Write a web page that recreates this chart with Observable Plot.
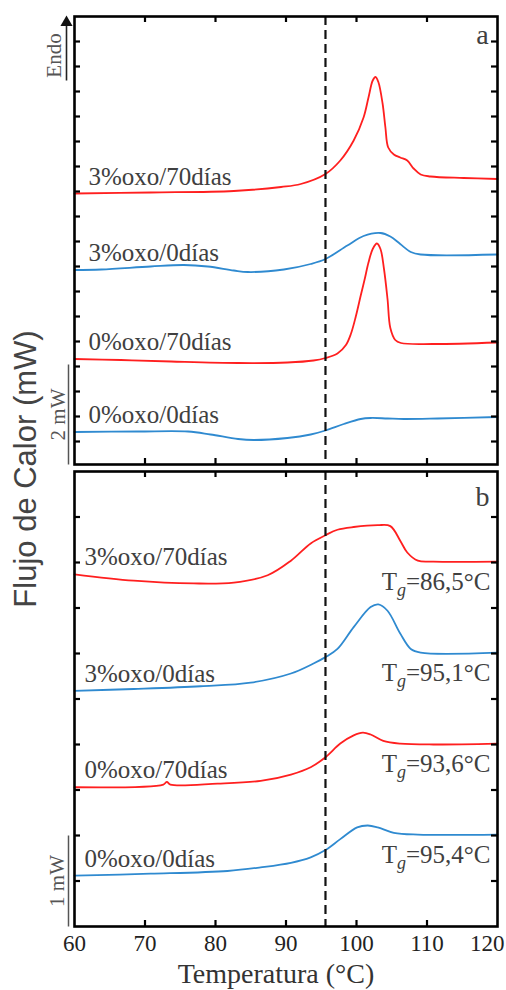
<!DOCTYPE html>
<html><head><meta charset="utf-8">
<script src="https://cdn.jsdelivr.net/npm/d3@7"></script>
<script src="https://cdn.jsdelivr.net/npm/@observablehq/plot@0.6"></script>
<style>
body{margin:0;background:#fff;}
#wrap{position:relative;width:506px;height:990px;overflow:hidden;background:#fff;}
#wrap svg{position:absolute;left:0;}
#ylab{position:absolute;left:26px;top:469px;transform:translate(-50%,-50%) rotate(-90deg);white-space:nowrap;font:31px "Liberation Sans",Arial,sans-serif;color:#444;}
</style></head><body><div id="wrap"><div id="ylab">Flujo de Calor (mW)</div></div>
<script>
// ---------- data ----------
const xTicks = [60, 70, 80, 90, 100, 110, 120];
const xDomain = [60, 120];
const dashedT = 95.6;
const xTitle = "Temperatura (°C)";
const yTitle = "Flujo de Calor (mW)";

// panel a (mW, offset curves)
const namesA = ["3%oxo/70días", "3%oxo/0días", "0%oxo/70días", "0%oxo/0días"];
const colorsA = ["#ff1f1f", "#2f8ad0", "#ff1f1f", "#2f8ad0"];
const a1T = [60, 70.8, 82.6, 89.3, 92.1, 95.6, 97.7, 99.6, 101.0, 101.7, 102.3, 102.7, 103.1, 103.7, 104.1, 104.5, 105.3, 106.2, 107.2, 108.1, 109.1, 110.5, 115.2, 120];
const a1V = [4.96, 4.98, 5.01, 5.09, 5.15, 5.35, 5.62, 6.02, 6.48, 6.88, 7.22, 7.29, 7.19, 6.76, 6.28, 5.88, 5.74, 5.68, 5.62, 5.46, 5.34, 5.30, 5.27, 5.25];
const a2T = [60, 63.8, 70.8, 75.5, 78.9, 82.6, 84.6, 89.7, 93.5, 95.6, 98.7, 101.0, 103.4, 104.8, 106.2, 107.7, 109.1, 120];
const a2V = [3.43, 3.44, 3.50, 3.53, 3.50, 3.42, 3.39, 3.44, 3.55, 3.65, 3.92, 4.11, 4.17, 4.10, 3.95, 3.79, 3.74, 3.74];
const a3T = [60, 66.6, 73.7, 83.2, 90.2, 93.9, 95.6, 97.3, 98.5, 99.2, 99.9, 100.6, 101.15, 101.7, 102.3, 102.9, 103.4, 103.9, 104.4, 104.8, 105.5, 106.3, 110.9, 120];
const a3V = [1.65, 1.63, 1.60, 1.57, 1.58, 1.62, 1.67, 1.76, 1.93, 2.15, 2.50, 2.92, 3.24, 3.58, 3.85, 3.96, 3.85, 3.45, 2.85, 2.27, 2.03, 1.97, 1.95, 1.98];
const a4T = [60, 69.0, 76.1, 79.3, 83.2, 85.4, 90.2, 93.5, 95.6, 98.2, 100.6, 102.0, 104.4, 106.7, 111.5, 120];
const a4V = [0.19, 0.20, 0.20, 0.14, 0.05, 0.03, 0.07, 0.14, 0.22, 0.35, 0.45, 0.47, 0.46, 0.45, 0.46, 0.49];

// panel b
const namesB = ["3%oxo/70días", "3%oxo/0días", "0%oxo/70días", "0%oxo/0días"];
const colorsB = ["#ff1f1f", "#2f8ad0", "#ff1f1f", "#2f8ad0"];
const tgB = ["86,5", "95,1", "93,6", "95,4"];
const b1T = [60, 68.4, 76.9, 82.6, 87.4, 90.7, 93.5, 95.6, 97.3, 99.6, 103.0, 104.8, 106.2, 107.2, 108.7, 110.9, 120];
const b1V = [3.87, 3.80, 3.77, 3.78, 3.86, 4.02, 4.21, 4.30, 4.36, 4.39, 4.41, 4.40, 4.24, 4.11, 4.02, 4.01, 4.01];
const b2T = [60, 68.4, 77.9, 85.0, 90.7, 93.9, 95.6, 97.3, 99.6, 102.0, 103.1, 104.4, 106.2, 107.7, 109.1, 120];
const b2V = [2.59, 2.61, 2.64, 2.68, 2.78, 2.89, 2.96, 3.05, 3.29, 3.51, 3.54, 3.47, 3.22, 3.05, 3.01, 3.01];
const b3T = [60, 72.6, 73.1, 73.6, 80.3, 86.4, 90.7, 93.5, 95.6, 97.7, 99.6, 100.9, 102.0, 103.8, 106.2, 110.9, 120];
const b3V = [1.53, 1.56, 1.59, 1.56, 1.57, 1.60, 1.67, 1.75, 1.86, 2.01, 2.10, 2.13, 2.11, 2.04, 2.01, 2.00, 2.01];
const b4T = [60, 70.8, 81.7, 86.4, 90.7, 93.5, 95.6, 97.7, 100.1, 101.6, 103.0, 105.3, 108.7, 120];
const b4V = [0.56, 0.58, 0.61, 0.65, 0.70, 0.76, 0.84, 0.96, 1.09, 1.11, 1.09, 1.03, 1.01, 1.01];

// annotations
const scaleA = {label: "2 mW", size: 2};
const scaleB = {label: "1 mW", size: 1};
const endoArrow = {label: "Endo", from: 7.22, to: 8.38, text: 7.72};

// ---------- build ----------
const serif = "'Liberation Serif','Times New Roman',serif";
const txt = "#404040";
const seriesA = namesA.map((n, i) => ({name: n, color: colorsA[i], T: [a1T, a2T, a3T, a4T][i], v: [a1V, a2V, a3V, a4V][i]}));
const seriesB = namesB.map((n, i) => ({name: n, color: colorsB[i], tg: tgB[i], T: [b1T, b2T, b3T, b4T][i], v: [b1V, b2V, b3V, b4V][i]}));
const pts = s => s.T.map((t, j) => ({T: t, v: s.v[j]}));

const W = 506, mL = 74, mR = 9;
const fw = W - mL - mR;
const inner = xTicks.slice(1, -1);

function panelMarks(series, yDom, yTicks, fh, lblDx) {
  return [
    ...series.map(s => Plot.line(pts(s), {x: "T", y: "v", stroke: s.color, strokeWidth: 1.8, curve: "catmull-rom"})),
    Plot.ruleX([dashedT], {stroke: "#111", strokeWidth: 2.2, strokeDasharray: "9,5"}),
    Plot.text(series, {x: d => d.T[0], y: d => d.v[0], text: d => d.name, textAnchor: "start", dx: lblDx, dy: -17, fontSize: 25, fill: txt}),
    Plot.ruleX(inner, {x: d => d, insetBottom: fh - 6, strokeWidth: 2.2}),
    Plot.ruleX(inner, {x: d => d, insetTop: fh - 6, strokeWidth: 2.2}),
    Plot.ruleY(yTicks, {y: d => d, insetRight: fw - 6, strokeWidth: 2.2}),
    Plot.ruleY(yTicks, {y: d => d, insetLeft: fw - 6, strokeWidth: 2.2}),
    Plot.frame({stroke: "#000", strokeWidth: 2.6})
  ];
}

// Panel a
const yDomA = [-0.46, 8.5];
const fhA = 448;
const plotA = Plot.plot({
  width: W, height: 466, marginTop: 16, marginBottom: 2, marginLeft: mL, marginRight: mR,
  x: {domain: xDomain, axis: null},
  y: {domain: yDomA, axis: null},
  style: {fontFamily: serif, background: "transparent", overflow: "visible", color: "#000"},
  marks: [
    ...panelMarks(seriesA, yDomA, d3.range(0, 8.01, 0.5), fhA, 14),
    Plot.text(["a"], {frameAnchor: "top-right", text: d => d, textAnchor: "middle", lineAnchor: "middle", dx: -15, dy: 19, fontSize: 28, fill: txt}),
    Plot.link([scaleA], {x1: xDomain[0], x2: xDomain[0], y1: yDomA[0], y2: d => yDomA[0] + d.size, dx: -6, stroke: "#555", strokeWidth: 1.5}),
    Plot.text([scaleA], {x: xDomain[0], y: d => yDomA[0] + d.size / 2, text: d => d.label, rotate: -90, dx: -16, fontSize: 21, fill: "#555"}),
    Plot.link([endoArrow], {x1: xDomain[0], x2: xDomain[0], y1: d => d.from, y2: d => d.to, dx: -8, stroke: "#222", strokeWidth: 1.6}),
    Plot.dot([endoArrow], {x: xDomain[0], y: d => d.to, symbol: "triangle", r: 4.5, fill: "#111", stroke: "none", dx: -8}),
    Plot.text([endoArrow], {x: xDomain[0], y: d => d.text, text: d => d.label, rotate: -90, dx: -20, fontSize: 21, fill: "#555"})
  ]
});
plotA.style.top = "0px";

// Panel b
const yDomB = [0, 5];
const fhB = 455;
const plotB = Plot.plot({
  width: W, height: 524, marginTop: 5, marginBottom: 64, marginLeft: mL, marginRight: mR,
  x: {domain: xDomain},
  y: {domain: yDomB, axis: null},
  style: {fontFamily: serif, fontSize: "23px", background: "transparent", overflow: "visible", color: "#000"},
  marks: [
    ...panelMarks(seriesB, yDomB, d3.range(0.5, 4.51, 0.5), fhB, 10),
    Plot.text(seriesB, {x: d => d.T[d.T.length - 1], y: d => d.v[d.v.length - 1], text: d => "Tg=" + d.tg + "°C", textAnchor: "end", dx: -7, dy: 20, fontSize: 25, fill: txt}),
    Plot.text(["b"], {frameAnchor: "top-right", text: d => d, textAnchor: "middle", lineAnchor: "middle", dx: -15, dy: 26, fontSize: 28, fill: txt}),
    Plot.link([scaleB], {x1: xDomain[0], x2: xDomain[0], y1: yDomB[0], y2: d => yDomB[0] + d.size, dx: -6, stroke: "#555", strokeWidth: 1.5}),
    Plot.text([scaleB], {x: xDomain[0], y: d => yDomB[0] + d.size / 2, text: d => d.label, rotate: -90, dx: -17, fontSize: 21, fill: "#555"}),
    Plot.axisX(xTicks.slice(0, -1), {anchor: "bottom", tickSize: 0, tickPadding: 8, fontSize: 23, label: null, fill: "#222"}),
    Plot.axisX(xTicks.slice(-1), {anchor: "bottom", tickSize: 0, tickPadding: 8, fontSize: 23, label: null, textAnchor: "end", dx: 7, fill: "#222"}),
    Plot.text([xTitle], {frameAnchor: "bottom", text: d => d, lineAnchor: "middle", dx: -10, dy: 48, fontSize: 28, fill: "#333"})
  ]
});
plotB.style.top = "466px";

const wrap = document.getElementById("wrap");
wrap.appendChild(plotA);
wrap.appendChild(plotB);
document.getElementById("ylab").textContent = yTitle;

// subscript g in Tg labels
plotB.querySelectorAll("text").forEach(t => {
  const s = t.textContent;
  if (s.startsWith("Tg=")) {
    const rest = s.slice(2);
    t.textContent = "T";
    const g = document.createElementNS("http://www.w3.org/2000/svg", "tspan");
    g.setAttribute("font-style", "italic");
    g.setAttribute("font-size", "18");
    g.setAttribute("dy", "6");
    g.textContent = "g";
    const r = document.createElementNS("http://www.w3.org/2000/svg", "tspan");
    r.setAttribute("dy", "-6");
    r.textContent = rest;
    t.appendChild(g); t.appendChild(r);
  }
});
</script></body></html>
